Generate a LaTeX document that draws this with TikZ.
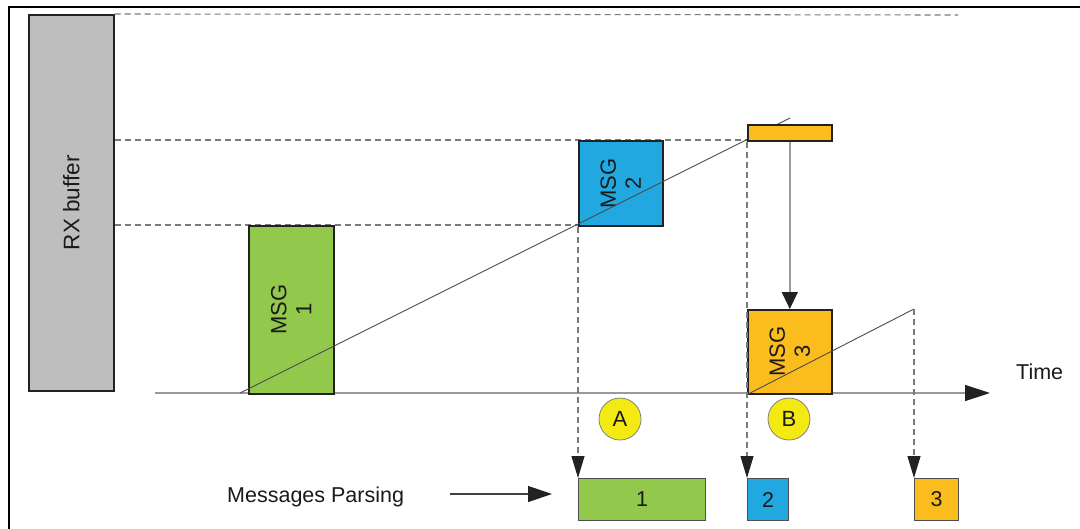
\documentclass[tikz,border=0pt]{standalone}
\usepackage{fontspec}
\setmainfont{Liberation Sans}
\usetikzlibrary{arrows.meta}
\definecolor{msggreen}{HTML}{92C84C}
\definecolor{msgblue}{HTML}{22A8E0}
\definecolor{msgorange}{HTML}{FBBC1E}
\definecolor{circyellow}{HTML}{F3EA14}
\definecolor{rxgray}{HTML}{BEBEBE}
\definecolor{boxline}{HTML}{222222}
\definecolor{txt}{HTML}{1A1A1A}
\definecolor{dashgray}{HTML}{7A7A7A}
\definecolor{axisgray}{HTML}{9A9A9A}
\begin{document}
\begin{tikzpicture}[x=1pt,y=-1pt,
  box/.style={draw=boxline, line width=1.6pt, inner sep=0pt, anchor=north west},
  smallbox/.style={draw=boxline!80, line width=1.1pt, inner sep=0pt, anchor=north west},
  lbl/.style={text=txt, font=\fontsize{21.5}{24}\selectfont, inner sep=0pt},
  msgtext/.style={lbl, font=\fontsize{22}{25}\selectfont, rotate=90, align=center},
  dline/.style={draw=dashgray, line width=1.1pt, dash pattern=on 6pt off 4pt},
  diag/.style={draw=black!70, line width=0.9pt},
  axisline/.style={draw=axisgray, line width=1.4pt},
  bigtip/.style={arrows={-{Triangle[length=25pt,width=16pt,color=boxline,fill=boxline]}}},
  vtip/.style={arrows={-{Triangle[length=17pt,width=16pt,color=boxline,fill=boxline]}}},
  downtip/.style={arrows={-{Triangle[length=22pt,width=13pt,color=boxline,fill=boxline]}}},
  mptip/.style={arrows={-{Triangle[length=24pt,width=16pt,color=boxline,fill=boxline]}}},
  circ/.style={circle, draw=black!50, line width=0.8pt, fill=circyellow, minimum size=42pt, inner sep=0pt, text=txt, font=\fontsize{22}{24}\selectfont}
]
\useasboundingbox (0,0) rectangle (1080,528);
% frame
\draw[line width=2pt, black] (8.5,530) -- (8.5,6.5) -- (1082,6.5);

% coordinates
\coordinate (d0) at (958,15);
\coordinate (t0) at (155,393);
\coordinate (t1) at (990,393);
\coordinate (g0) at (240,393);
\coordinate (g1) at (790,118);
\coordinate (h1) at (914,309);
\coordinate (mp1) at (450,494);

% RX buffer
\node[box, fill=rxgray, minimum width=85pt, minimum height=376pt] (rx) at (28,14) {};
\node[lbl, font=\fontsize{22.5}{24}\selectfont, rotate=90] (rxt) at (rx.center) {RX buffer};

% dashed horizontal guides
\draw[dline] (rx.north east) -- (d0);
\draw[dline] (rx.east |- 0,140) -- (747,140);
\draw[dline] (rx.east |- 0,225) -- (578,225);

% time axis (behind boxes)
\draw[axisline, bigtip] (t0) -- (t1);
\node[lbl, anchor=west] (time) at (1016,372) {Time};

% MSG boxes
\node[box, fill=msggreen, minimum width=85pt, minimum height=168pt] (m1) at (248,225) {};
\node[msgtext] (m1t) at (m1.center) {MSG\\1};
\node[box, fill=msgblue, minimum width=84pt, minimum height=85pt] (m2) at (578,140) {};
\node[msgtext] (m2t) at (m2.center) {MSG\\2};
\node[box, fill=msgorange, minimum width=84pt, minimum height=84pt] (m3) at (747,309) {};
\node[msgtext] (m3t) at (m3.center) {MSG\\3};

% diagonal fill lines (over MSG boxes, under small block)
\draw[diag] (g0) -- (g1);
\draw[diag] (m3.south west) -- (h1);

% small orange block
\node[box, fill=msgorange, minimum width=84pt, minimum height=16pt] (sm) at (747,124) {};

% vertical transfer arrow
\draw[draw=axisgray, line width=1.4pt, vtip] (sm.south) -- (m3.north);

% circles
\node[circ] (ca) at (620,419) {A};
\node[circ] (cb) at (789,419) {B};

% parsing boxes
\node[smallbox, fill=msggreen, minimum width=127pt, minimum height=42pt] (b1) at (578,478) {};
\node[lbl] (b1t) at (b1.center) {1};
\node[smallbox, fill=msgblue, minimum width=41pt, minimum height=42pt] (b2) at (747,478) {};
\node[lbl] (b2t) at (b2.center) {2};
\node[smallbox, fill=msgorange, minimum width=44pt, minimum height=42pt] (b3) at (914,478) {};
\node[lbl] (b3t) at (b3.center) {3};

% dashed down arrows
\draw[dline, downtip] (m2.south west) -- (b1.north west);
\draw[dline, downtip] (sm.south west) -- (b2.north west);
\draw[dline, downtip] (h1) -- (b3.north west);

% messages parsing
\node[lbl, anchor=west] (mp) at (227,497) {Messages Parsing};
\draw[draw=black!75, line width=1.2pt, mptip] (mp1) -- (552,494);
\end{tikzpicture}
\end{document}
